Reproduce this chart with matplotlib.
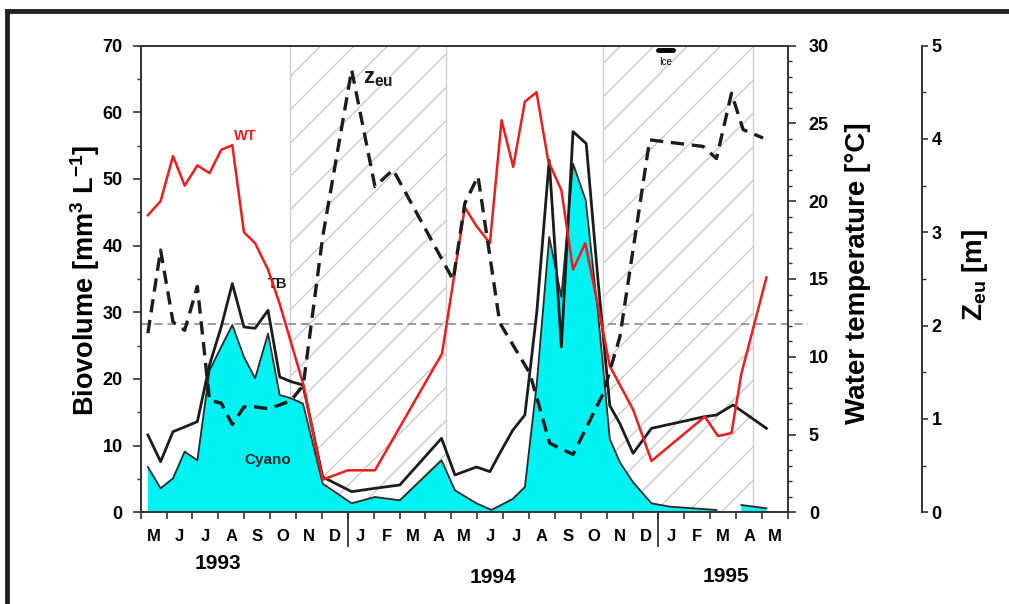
import matplotlib
matplotlib.use('Agg')
import matplotlib.pyplot as plt
import matplotlib.transforms as mtransforms
from matplotlib.ticker import MultipleLocator, FixedLocator
import numpy as np

plt.rcParams['font.family'] = ['Liberation Sans', 'DejaVu Sans']
plt.rcParams['font.weight'] = 'bold'
plt.rcParams['mathtext.fontset'] = 'custom'
plt.rcParams['mathtext.rm'] = 'Liberation Sans:bold'
plt.rcParams['mathtext.bf'] = 'Liberation Sans:bold'
plt.rcParams['mathtext.default'] = 'bf'
plt.rcParams['hatch.color'] = '#c6c6c6'
plt.rcParams['hatch.linewidth'] = 0.9

# time axis: months since 1 May 1993
months = ['M', 'J', 'J', 'A', 'S', 'O', 'N', 'D', 'J', 'F', 'M', 'A', 'M',
          'J', 'J', 'A', 'S', 'O', 'N', 'D', 'J', 'F', 'M', 'A', 'M']
years = ['1993', '1994', '1995']
year_pos = [2.98, 13.6, 22.6]
winter_spans = [(5.75, 11.78), (17.86, 23.65)]

# cyanobacteria biovolume (mm3/L)
cyano_t = [0.28, 0.77, 1.25, 1.70, 2.19, 2.66, 3.11, 3.54, 3.99, 4.42, 4.92, 5.37,
           5.81, 6.27, 7.03, 8.15, 9.05, 10.01, 11.62, 12.14, 12.97, 13.55, 14.37,
           14.84, 15.30, 15.78, 16.25, 16.70, 17.19, 17.66, 18.12, 18.51, 19.02,
           19.73, 20.44, 22.24, 22.71, 23.20, 24.17]
cyano = [6.8, 3.6, 5.1, 9.1, 7.8, 21.3, 24.8, 28.1, 23.3, 20.1, 26.8, 17.6,
         17.1, 16.3, 4.3, 1.35, 2.3, 1.8, 7.8, 3.3, 1.35, 0.35, 2.0,
         3.8, 19.3, 41.3, 32.3, 52.3, 46.8, 30.0, 11.0, 7.5, 4.5,
         1.35, 0.85, 0.35, np.nan, 1.1, 0.6]

# total biovolume (mm3/L)
tb_t = [0.28, 0.77, 1.25, 1.70, 2.19, 2.66, 3.11, 3.54, 3.99, 4.42, 4.92, 5.37,
        5.81, 6.27, 7.03, 8.15, 9.05, 10.01, 11.62, 12.14, 12.97, 13.49, 13.87,
        14.37, 14.84, 15.30, 15.78, 16.25, 16.70, 17.21, 17.66, 18.12, 18.51,
        19.02, 19.73, 21.72, 22.24, 22.88, 24.17]
tb = [11.6, 7.6, 12.1, 12.8, 13.6, 22.1, 27.8, 34.3, 27.8, 27.6, 30.3, 20.3,
      19.6, 19.1, 5.3, 3.1, 3.6, 4.1, 11.1, 5.6, 6.8, 6.1, 8.85,
      12.3, 14.6, 30.0, 52.8, 24.8, 57.1, 55.3, 35.0, 16.0, 13.3,
      8.85, 12.6, 14.3, 14.6, 16.1, 12.6]

# water temperature (deg C)
wt_t = [0.28, 0.77, 1.25, 1.70, 2.19, 2.66, 3.11, 3.54, 3.99, 4.42, 4.92, 5.37,
        5.81, 6.27, 7.03, 8.00, 9.05, 11.64, 12.52, 12.97, 13.49, 13.94, 14.39,
        14.84, 15.29, 15.74, 16.25, 16.70, 17.17, 17.70, 18.12, 19.02, 19.73,
        21.79, 22.30, 22.82, 23.20, 24.17]
wt = [19.1, 20.0, 22.9, 21.0, 22.3, 21.8, 23.3, 23.6, 18.0, 17.3, 15.6, 13.4,
      10.9, 8.3, 2.1, 2.7, 2.7, 10.2, 19.6, 18.4, 17.3, 25.2, 22.2,
      26.4, 27.0, 22.6, 20.7, 15.6, 17.3, 13.0, 9.4, 6.6, 3.3,
      6.15, 4.9, 5.1, 8.9, 15.1]

# euphotic depth (m)
zeu_t = [0.28, 0.77, 1.25, 1.70, 2.19, 2.66, 3.11, 3.54, 3.99, 4.42, 4.92, 5.37,
         5.81, 6.28, 7.03, 8.15, 9.05, 9.75, 12.07, 12.52, 13.03, 13.87, 15.03,
         15.80, 16.70, 17.86, 18.51, 19.66, 21.72, 22.24, 22.82, 23.27, 24.04]
zeu = [1.92, 2.81, 2.04, 1.95, 2.42, 1.20, 1.17, 0.94, 1.13, 1.13, 1.11, 1.15,
       1.20, 1.36, 2.95, 4.74, 3.49, 3.67, 2.49, 3.31, 3.60, 2.03, 1.49,
       0.74, 0.62, 1.27, 1.88, 3.99, 3.92, 3.79, 4.49, 4.10, 4.01]

ref_level = 28.3
ice = (19.98, 20.56)

fig = plt.figure(figsize=(10.09, 6.04), dpi=100)
ax = fig.add_axes([0.1394, 0.1518, 0.6415, 0.7727])
ax.set_xlim(0, 25)
ax.set_ylim(0, 70)

# winter periods
for x0, x1 in winter_spans:
    ax.axvspan(x0, x1, facecolor='none', edgecolor='#c6c6c6', hatch='/', lw=0, zorder=0)
    ax.axvline(x0, color='#cfcfcf', lw=1.0, zorder=0)
    ax.axvline(x1, color='#cfcfcf', lw=1.0, zorder=0)

ax.fill_between(cyano_t, cyano, 0, color='#00f2f2', lw=0, zorder=2)
ax.plot(cyano_t, cyano, color='#2a2a2a', lw=1.3, zorder=3)
ax.plot(tb_t, tb, color='#1c1c1c', lw=2.0, zorder=4)
ax.plot([0, 1.031], [ref_level, ref_level], color='#8a8a8a', lw=1.2,
        ls=(0, (5, 3)), transform=mtransforms.blended_transform_factory(ax.transAxes, ax.transData),
        clip_on=False, zorder=1)

ax2 = ax.twinx()
ax2.set_ylim(0, 30)
ax2.plot(wt_t, wt, color='#ee1c1c', lw=1.8, zorder=3)

ax3 = ax.twinx()
ax3.set_ylim(0, 5)
ax3.spines['right'].set_position(('axes', 1.207))
ax3.plot(zeu_t, zeu, color='#1c1c1c', lw=2.4, ls=(0, (4, 2.3)), zorder=5)

spine_c = '#333333'
for a in (ax, ax2, ax3):
    for s in a.spines.values():
        s.set_color(spine_c)
        s.set_linewidth(1.4)
ax.spines['right'].set_visible(False)
for s in ('left', 'top', 'bottom'):
    ax2.spines[s].set_visible(False)
    ax3.spines[s].set_visible(False)

# x axis: month boundaries as ticks, labels in the middle of the month
ax.xaxis.set_ticks_position('bottom')
ax.xaxis.set_major_locator(FixedLocator(np.arange(26)))
ax.xaxis.set_minor_locator(FixedLocator(np.arange(25) + 0.5))
ax.set_xticklabels([])
ax.set_xticklabels(months, minor=True)
ax.tick_params(axis='x', which='major', length=5, width=1.2, color=spine_c)
ax.tick_params(axis='x', which='minor', length=0, pad=12, labelsize=12)

xt = mtransforms.blended_transform_factory(ax.transData, ax.transAxes)
for yr_x in (8, 20):
    ax.plot([yr_x, yr_x], [0, -0.072], transform=xt, color=spine_c, lw=1.3, clip_on=False)
for lab, xp, yp in zip(years, year_pos, [-0.109, -0.139, -0.137]):
    ax.text(xp, yp, lab, transform=xt, ha='center', va='center', fontsize=15)

ax.yaxis.set_major_locator(MultipleLocator(10))
ax.yaxis.set_minor_locator(MultipleLocator(5))
ax.tick_params(axis='y', which='major', length=6, width=1.2, pad=7, labelsize=13, color=spine_c)
ax.tick_params(axis='y', which='minor', length=3, width=1.0, color=spine_c)

ax2.yaxis.set_major_locator(MultipleLocator(5))
ax2.yaxis.set_minor_locator(MultipleLocator(1))
ax2.tick_params(axis='y', which='major', length=6, width=1.2, pad=9, labelsize=13, color=spine_c)
ax2.tick_params(axis='y', which='minor', length=3, width=1.0, color=spine_c)

ax3.yaxis.set_major_locator(MultipleLocator(1))
ax3.yaxis.set_minor_locator(MultipleLocator(0.5))
ax3.tick_params(axis='y', which='major', length=4, width=1.2, pad=3, labelsize=13, color=spine_c)
ax3.tick_params(axis='y', which='minor', length=3, width=1.0, color=spine_c)

# axis titles
fig.text(0.084, 0.536, 'Biovolume [mm$^{3}$ L$^{-1}$]', rotation=90, ha='center', va='center', fontsize=19.5)
fig.text(0.850, 0.548, 'Water temperature [°C]', rotation=90, ha='center', va='center', fontsize=20)
fig.text(0.966, 0.545, 'Z$_{eu}$ [m]', rotation=90, ha='center', va='center', fontsize=20)

# series labels
ax.text(4.03, 56.4, 'WT', color='#ee1c1c', fontsize=10.5, ha='center', va='center')
ax.text(5.3, 34.2, 'TB', color='#1c1c1c', fontsize=10.5, ha='center', va='center')
ax.text(4.92, 7.8, 'Cyano', color='#1e2a2a', fontsize=11, ha='center', va='center', zorder=6)
ax.text(9.17, 65.1, 'z$_{eu}$', color='#1c1c1c', fontsize=16, ha='center', va='center')

# ice cover mark
ax.plot(ice, [69.4, 69.4], color='black', lw=3.5, solid_capstyle='round', zorder=6)
ax.text(np.mean(ice), 67.6, 'Ice', fontsize=7, fontweight='normal', ha='center', va='center')

# frame around the figure
fig.add_artist(plt.Line2D([0.007, 1.0], [0.982, 0.982], color='#222222', lw=3.5, transform=fig.transFigure))
fig.add_artist(plt.Line2D([0.007, 0.007], [0.0, 0.982], color='#222222', lw=3.5, transform=fig.transFigure))

fig.savefig('out.png', dpi=100)
